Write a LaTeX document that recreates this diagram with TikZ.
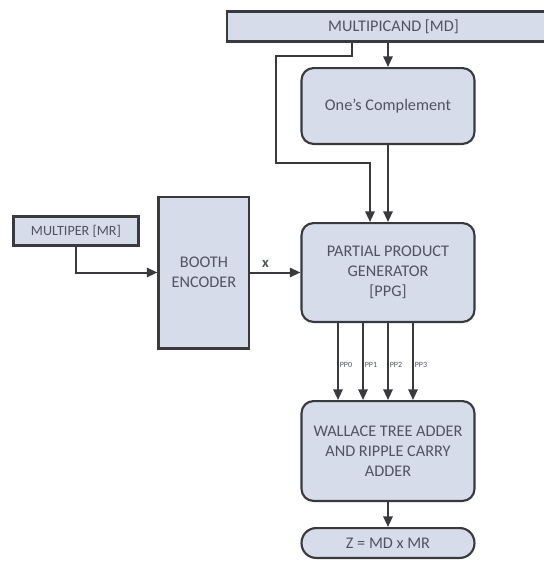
\documentclass[tikz,border=0pt]{standalone}
\usepackage{fontspec}
\setmainfont{Carlito}
\usepackage{tikz}
\usetikzlibrary{arrows.meta,positioning}

\definecolor{boxfill}{RGB}{214,220,234}
\definecolor{boxline}{RGB}{58,58,62}
\definecolor{boxtext}{RGB}{80,84,96}

\begin{document}
\begin{tikzpicture}[x=0.75pt, y=-0.75pt,
    >={Triangle[length=8pt,width=7pt]},
node distance = 18pt and 37.5pt,
   blk/.style = {draw=boxline, fill=boxfill, line width=1.6pt,
                 text=boxtext, align=center, inner sep=2pt,
                 font=\fontsize{12.2}{15}\selectfont},
   rblk/.style = {blk, rounded corners=9pt, minimum width=129.7pt},
   sqblk/.style = {blk, line width=2pt},
   wire/.style = {draw=boxline, line width=1.5pt, ->},
   pplab/.style = {font=\fontsize{6}{6}\selectfont, text=boxtext,
                   inner sep=0.6pt, anchor=west}
                    ]
\useasboundingbox (0,0) rectangle (544,562);
% operand blocks
\node (md) [sqblk, minimum width=250pt, minimum height=22.75pt]
      at (393.5,26.5)                                {MULTIPICAND [MD]};
\node (mr) [sqblk, minimum width=94pt, minimum height=22pt,
            font=\fontsize{10.6}{12}\selectfont]
      at (76,231)                                    {MULTIPER [MR]};
% main column
\coordinate (col) at (388,0);
\node (oc)  [rblk, minimum height=56.9pt, anchor=north]
      at ([yshift=-18pt]md.south -| col) {One's Complement};
\node (ppg) [rblk, minimum height=74.15pt,
             below=57.75pt of oc]   {PARTIAL PRODUCT\\ GENERATOR\\ {[PPG]}};
\node (wt)  [rblk, minimum height=74.9pt,
             below=57.75pt of ppg]  {WALLACE TREE ADDER\\ AND RIPPLE CARRY\\ ADDER};
\node (z)   [rblk, rounded corners=11pt, minimum height=22.4pt,
             below=18.75pt of wt]   {Z = MD x MR};
\node (be)  [blk, minimum width=68.15pt, minimum height=113.9pt,
             left=of ppg]           {BOOTH\\ ENCODER};
% connectors
\draw[wire] (md.south -| oc.north) -- (oc);
\draw[wire] ([xshift=-27pt]md.south -| oc.north) -- ++(0,13) -| (276,163)
            -| ([xshift=-13.5pt]ppg.north);
\draw[wire] (oc) -- (ppg);
\draw[wire] (mr.south) |- (be.west);
\draw[wire] (be) -- node[pos=0.3, above, text=boxtext,
            font=\fontsize{11}{11}\selectfont\bfseries] {x} (ppg);
\foreach \i/\dx in {0/-37.5, 1/-18.75, 2/0, 3/18.75}
  \draw[wire] ([xshift=\dx pt]ppg.south) -- 
        node[pplab, pos=0.55] {PP\i} ([xshift=\dx pt]wt.north);
\draw[wire] (wt) -- (z);
\end{tikzpicture}
\end{document}
